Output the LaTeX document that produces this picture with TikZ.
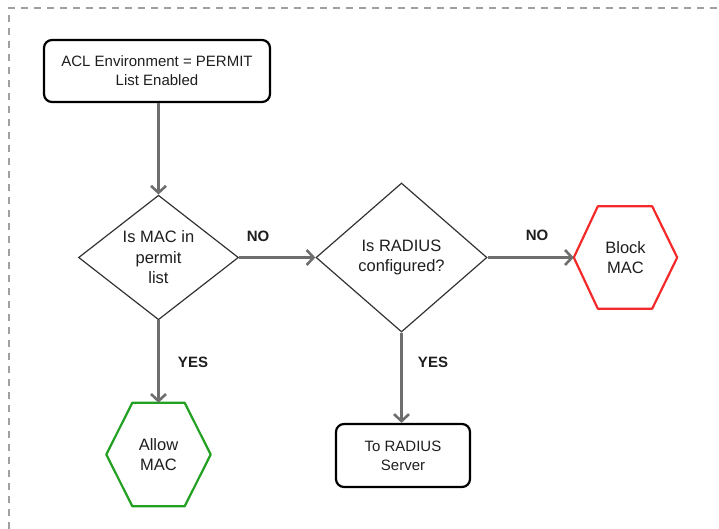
\documentclass[tikz,border=0pt]{standalone}
\usepackage{fontspec}
\setmainfont{Liberation Sans}
\usetikzlibrary{shapes.geometric,arrows.meta,calc}
\definecolor{flowgray}{HTML}{6E6E6E}
\definecolor{edgegray}{HTML}{333333}
\definecolor{framegray}{HTML}{A0A0A0}
\definecolor{okgreen}{HTML}{22A022}
\definecolor{stopred}{HTML}{F42A2A}
\definecolor{inkdark}{HTML}{1E1E1E}
\tikzset{
  x=1pt, y=-1pt,
  every node/.style={text=inkdark, font=\fontsize{15}{19}\selectfont, align=center, inner sep=0pt},
  bigtext/.style={font=\fontsize{16.5}{20.5}\selectfont},
  procbox/.style={draw=black, line width=2.2pt, rounded corners=8pt},
  decision/.style={diamond, draw=edgegray, line width=1.2pt, bigtext},
  hexholder/.style={rectangle, bigtext},
  flow/.style={draw=flowgray, line width=2.6pt, -{Straight Barb[length=7pt,width=15pt]}},
  answer/.style={font=\fontsize{15}{18}\selectfont\bfseries},
}
\begin{document}
\begin{tikzpicture}
\useasboundingbox (0,0) rectangle (719,529);

% frame (only its top and left edges fall inside the page)
\draw[framegray, line width=1.3pt, dash pattern=on 7pt off 6pt] (9,529) -- (9,8) -- (719,8);

% start box
\node[procbox, minimum width=226pt, minimum height=62pt] (start) at (157,71)
  {ACL Environment = PERMIT\\List Enabled};

% decisions
\node[decision, minimum width=160pt, minimum height=121pt] (inlist) at (158.5,257.5)
  {Is MAC in\\permit\\list};
\node[decision, minimum width=171pt, minimum height=149pt] (radius) at (401.5,257.5)
  {Is RADIUS\\configured?};

% outcomes
\node[hexholder, minimum width=104pt, minimum height=103pt] (allow) at (158.5,454.5)
  {Allow\\MAC};
\draw[okgreen, line width=2.2pt, line join=round]
  (allow.west) -- ($(allow.north west)+(26,0)$) -- ($(allow.north east)+(-26,0)$)
  -- (allow.east) -- ($(allow.south east)+(-26,0)$) -- ($(allow.south west)+(26,0)$) -- cycle;

\node[hexholder, minimum width=103pt, minimum height=102pt] (block) at (625.5,257.5)
  {Block\\MAC};
\draw[stopred, line width=2.2pt, line join=round]
  (block.west) -- ($(block.north west)+(24,0)$) -- ($(block.north east)+(-25,0)$)
  -- (block.east) -- ($(block.south east)+(-25,0)$) -- ($(block.south west)+(24,0)$) -- cycle;

\node[procbox, minimum width=134pt, minimum height=63pt] (server) at (403,455.5)
  {To RADIUS\\Server};

% connectors
\draw[flow] (start.south -| inlist.north) -- (inlist.north);
\draw[flow] (inlist.east) -- (radius.west);
\draw[flow] (radius.east) -- (block.west);
\draw[flow] (inlist.south) -- (allow.north);
\draw[flow] (radius.south) -- (radius.south |- server.north);

% branch labels
\node[answer] (noa) at (258,236) {NO};
\node[answer] (nob) at (537,235) {NO};
\node[answer] (yesa) at (193,362) {YES};
\node[answer] (yesb) at (433,362) {YES};
\end{tikzpicture}
\end{document}
